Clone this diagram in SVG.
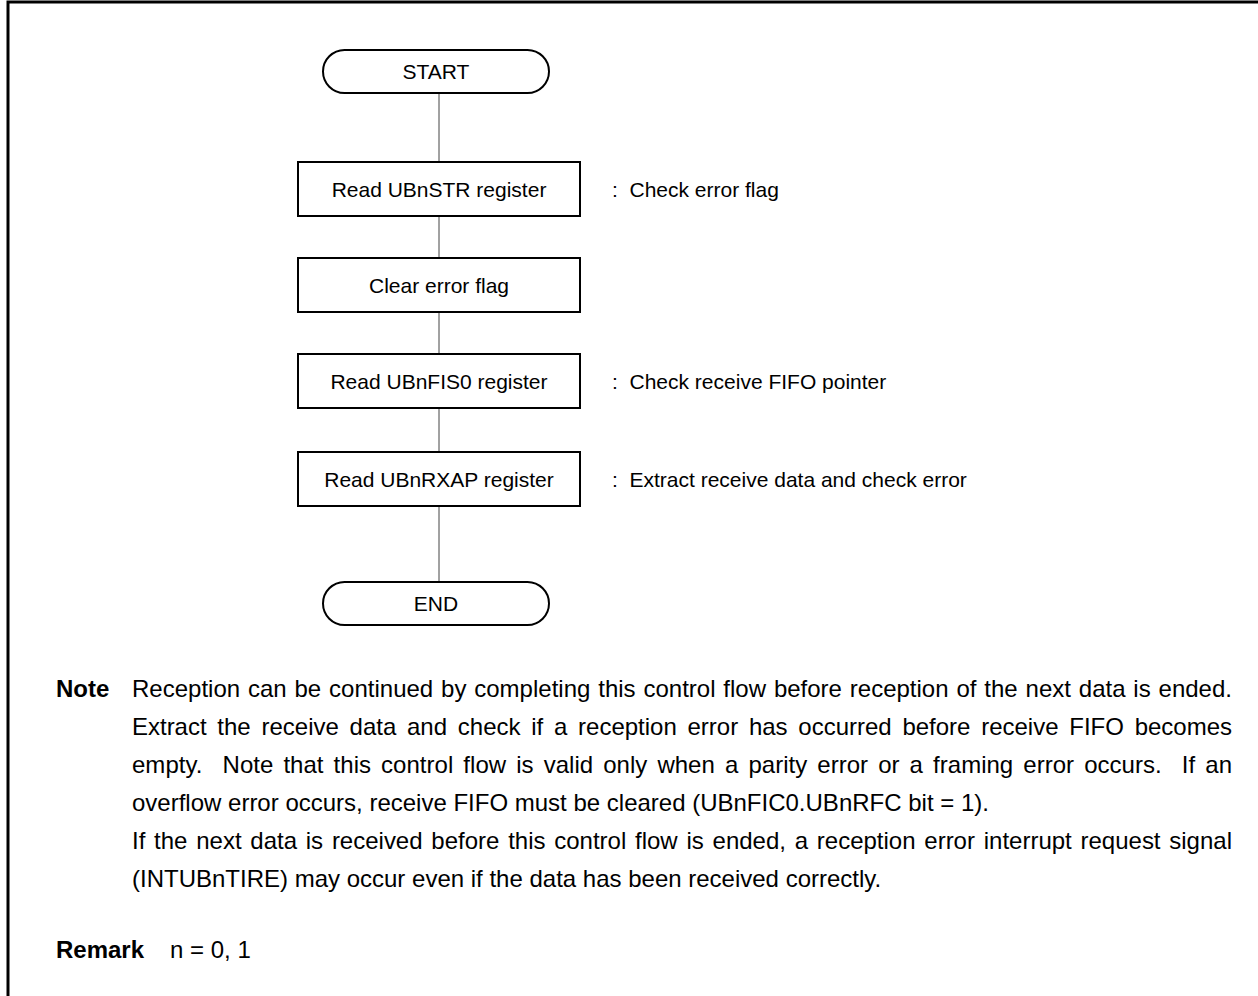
<svg xmlns="http://www.w3.org/2000/svg" width="1258" height="996" viewBox="0 0 1258 996">
<style>
.t{font-family:"Liberation Sans",Arial,sans-serif;font-size:24px;fill:#000;white-space:pre}
.n{font-family:"Liberation Sans",Arial,sans-serif;font-size:21px;fill:#000;white-space:pre}
.c{text-anchor:middle}
.b{font-weight:bold}
.box{fill:#fff;stroke:#000;stroke-width:2}
.ln{stroke:#444;stroke-width:1;fill:none}
</style>
<rect width="1258" height="996" fill="#fff"/>
<path d="M8 996 V2 H1258" fill="none" stroke="#000" stroke-width="3"/>
<g id="connectors">
<line class="ln" x1="439" y1="93" x2="439" y2="162"/>
<line class="ln" x1="439" y1="216" x2="439" y2="258"/>
<line class="ln" x1="439" y1="312" x2="439" y2="354"/>
<line class="ln" x1="439" y1="408" x2="439" y2="452"/>
<line class="ln" x1="439" y1="506" x2="439" y2="582"/>
</g>
<g id="start">
<rect class="box" x="323" y="50" width="226" height="43" rx="21.5"/>
<text class="n c" x="436" y="79">START</text>
</g>
<g id="read-str">
<rect class="box" x="298" y="162" width="282" height="54"/>
<text class="n c" x="439" y="197">Read UBnSTR register</text>
<text class="n" x="612" y="197" xml:space="preserve">:  Check error flag</text>
</g>
<g id="clear">
<rect class="box" x="298" y="258" width="282" height="54"/>
<text class="n c" x="439" y="293">Clear error flag</text>
</g>
<g id="read-fis0">
<rect class="box" x="298" y="354" width="282" height="54"/>
<text class="n c" x="439" y="389">Read UBnFIS0 register</text>
<text class="n" x="612" y="389" xml:space="preserve">:  Check receive FIFO pointer</text>
</g>
<g id="read-rxap">
<rect class="box" x="298" y="452" width="282" height="54"/>
<text class="n c" x="439" y="487">Read UBnRXAP register</text>
<text class="n" x="612" y="487" xml:space="preserve">:  Extract receive data and check error</text>
</g>
<g id="end">
<rect class="box" x="323" y="582" width="226" height="43" rx="21.5"/>
<text class="n c" x="436" y="611">END</text>
</g>
<g id="note">
<text class="t b" x="56" y="697">Note</text>
<text class="t" x="132" y="697" word-spacing="1.2" textLength="1100" lengthAdjust="spacing">Reception can be continued by completing this control flow before reception of the next data is ended.</text>
<text class="t" x="132" y="735" word-spacing="4.1" textLength="1100" lengthAdjust="spacing">Extract the receive data and check if a reception error has occurred before receive FIFO becomes</text>
<text class="t" x="132" y="773" word-spacing="3.4" textLength="1100" lengthAdjust="spacing" xml:space="preserve">empty.  Note that this control flow is valid only when a parity error or a framing error occurs.  If an</text>
<text class="t" x="132" y="811">overflow error occurs, receive FIFO must be cleared (UBnFIC0.UBnRFC bit = 1).</text>
<text class="t" x="132" y="849" word-spacing="2.1" textLength="1100" lengthAdjust="spacing">If the next data is received before this control flow is ended, a reception error interrupt request signal</text>
<text class="t" x="132" y="887">(INTUBnTIRE) may occur even if the data has been received correctly.</text>
</g>
<g id="remark">
<text class="t b" x="56" y="958">Remark</text>
<text class="t" x="170" y="958">n = 0, 1</text>
</g>
</svg>
